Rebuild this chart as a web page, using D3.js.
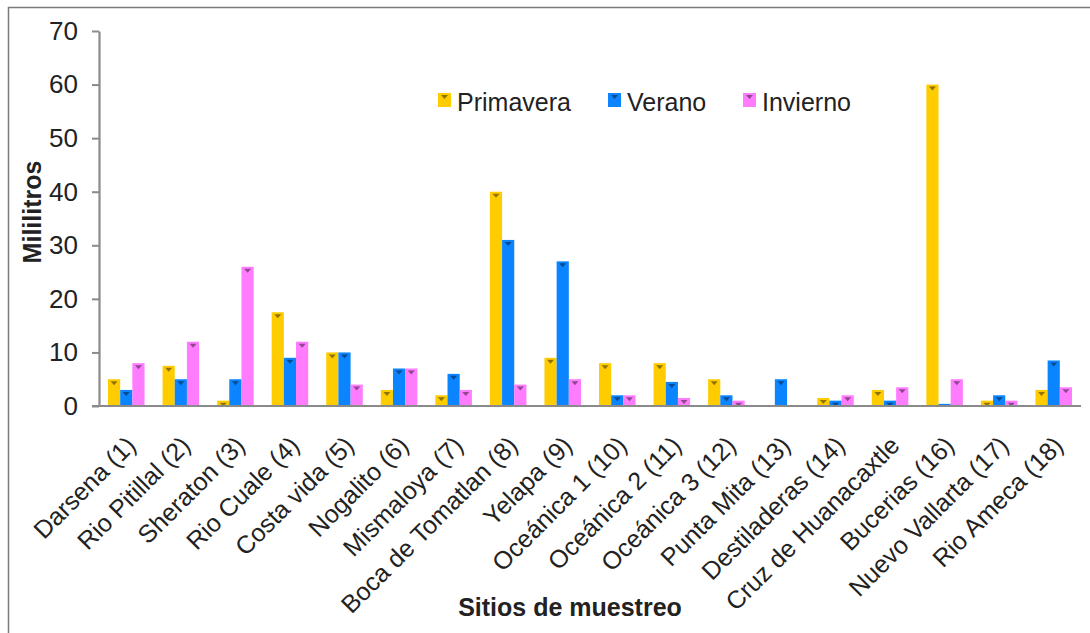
<!DOCTYPE html>
<html>
<head>
<meta charset="utf-8">
<script src="https://cdn.jsdelivr.net/npm/d3@7"></script>
<style>
  html, body { margin: 0; padding: 0; background: #fff; }
  svg { display: block; font-family: "Liberation Sans", Arial, sans-serif; }
</style>
</head>
<body>
<svg id="chart" width="1090" height="633"></svg>
<script>
// Sampling sites along the bay
const sites = [
  "Darsena (1)", "Rio Pitillal (2)", "Sheraton (3)", "Rio Cuale (4)", "Costa vida (5)",
  "Nogalito (6)", "Mismaloya (7)", "Boca de Tomatlan (8)", "Yelapa (9)", "Oceánica 1 (10)",
  "Oceánica 2 (11)", "Oceánica 3 (12)", "Punta Mita (13)", "Destiladeras (14)",
  "Cruz de Huanacaxtle", "Bucerias (16)", "Nuevo Vallarta (17)", "Rio Ameca (18)"
];
const seasons = ["Primavera", "Verano", "Invierno"];

// Volume (ml) per season and site
const primavera = [5, 7.5, 1, 17.5, 10, 3, 2, 40, 9, 8, 8, 5, 0, 1.5, 3, 60, 1, 3];
const verano    = [3, 5, 5, 9, 10, 7, 6, 31, 27, 2, 4.5, 2, 5, 1, 1, 0.4, 2, 8.5];
const invierno  = [8, 12, 26, 12, 4, 7, 3, 4, 5, 2, 1.5, 1, 0, 2, 3.5, 5, 1, 3.5];

const yTicks = [0, 10, 20, 30, 40, 50, 60, 70];
const seasonColors = ["#ffcc00", "#0a84ff", "#ff7cff"];

const table = sites.map((s, i) => ({
  site: s,
  values: [primavera[i], verano[i], invierno[i]]
}));

const svg = d3.select("#chart");
const textColor = "#222";
const axisColor = "#8a8a8a";

// Frame around the figure
svg.append("path")
  .attr("d", "M8.5,640 V7.5 H1100")
  .attr("fill", "none")
  .attr("stroke", "#7a7a7a")
  .attr("stroke-width", 1.5);

const x0 = d3.scaleBand()
  .domain(sites)
  .range([99, 1081])
  .paddingInner(0.33)
  .paddingOuter(0.165);

const x1 = d3.scaleBand()
  .domain(seasons)
  .range([0, x0.bandwidth()]);

const y = d3.scaleLinear().domain([0, 70]).range([406, 31]);

const color = d3.scaleOrdinal().domain(seasons).range(seasonColors);

// Y axis
const yAxis = svg.append("g")
  .attr("transform", "translate(99,0)")
  .call(d3.axisLeft(y).tickValues(yTicks).tickSize(7).tickPadding(14).tickSizeOuter(0));
yAxis.select(".domain").attr("stroke", axisColor).attr("stroke-width", 2.2);
yAxis.selectAll(".tick line").attr("stroke", axisColor).attr("stroke-width", 2);
yAxis.selectAll(".tick text")
  .attr("fill", textColor)
  .attr("font-size", 26)
  .attr("font-family", "Liberation Sans, Arial, sans-serif");

// Bars
const groups = svg.append("g")
  .selectAll("g")
  .data(table)
  .join("g")
  .attr("transform", d => `translate(${x0(d.site)},0)`);

const bars = groups.selectAll("g")
  .data(d => d.values.map((v, k) => ({ season: seasons[k], value: v })))
  .join("g");

bars.filter(d => d.value > 0).append("rect")
  .attr("x", d => x1(d.season))
  .attr("y", d => y(d.value))
  .attr("width", x1.bandwidth())
  .attr("height", d => y(0) - y(d.value))
  .attr("fill", d => color(d.season));

// Small cap marker on top of each bar
bars.filter(d => d.value > 0.8).append("path")
  .attr("d", d => {
    const cx = x1(d.season) + x1.bandwidth() / 2;
    const top = y(d.value) + 2;
    return `M${cx - 3.5},${top} L${cx + 3.5},${top} L${cx},${top + 4} Z`;
  })
  .attr("fill", d => d3.color(color(d.season)).darker(1.6));

// X axis line
svg.append("line")
  .attr("x1", 92).attr("x2", 1081)
  .attr("y1", y(0)).attr("y2", y(0))
  .attr("stroke", axisColor)
  .attr("stroke-width", 2.2);

// Site labels
svg.append("g")
  .selectAll("text")
  .data(sites)
  .join("text")
  .attr("transform", d => `translate(${x0(d) + x0.bandwidth() / 2 + 11},${y(0) + 41}) rotate(-45)`)
  .attr("text-anchor", "end")
  .attr("font-size", 25)
  .attr("fill", textColor)
  .text(d => d);

// Axis titles
svg.append("text")
  .attr("transform", "translate(41,212) rotate(-90)")
  .attr("text-anchor", "middle")
  .attr("font-size", 25)
  .attr("font-weight", "bold")
  .attr("fill", textColor)
  .text("Mililitros");

svg.append("text")
  .attr("x", 570)
  .attr("y", 616)
  .attr("text-anchor", "middle")
  .attr("font-size", 25)
  .attr("font-weight", "bold")
  .attr("fill", textColor)
  .text("Sitios de muestreo");

// Legend
const legendX = [438, 608, 743];
const legend = svg.append("g")
  .selectAll("g")
  .data(seasons)
  .join("g")
  .attr("transform", (d, i) => `translate(${legendX[i]},93)`);

legend.append("rect")
  .attr("width", 13)
  .attr("height", 14)
  .attr("fill", d => color(d));
legend.append("path")
  .attr("d", "M3,2 L10,2 L6.5,6 Z")
  .attr("fill", d => d3.color(color(d)).darker(1.6));
legend.append("text")
  .attr("x", 19)
  .attr("y", 18)
  .attr("font-size", 25)
  .attr("fill", textColor)
  .text(d => d);
</script>
</body>
</html>
